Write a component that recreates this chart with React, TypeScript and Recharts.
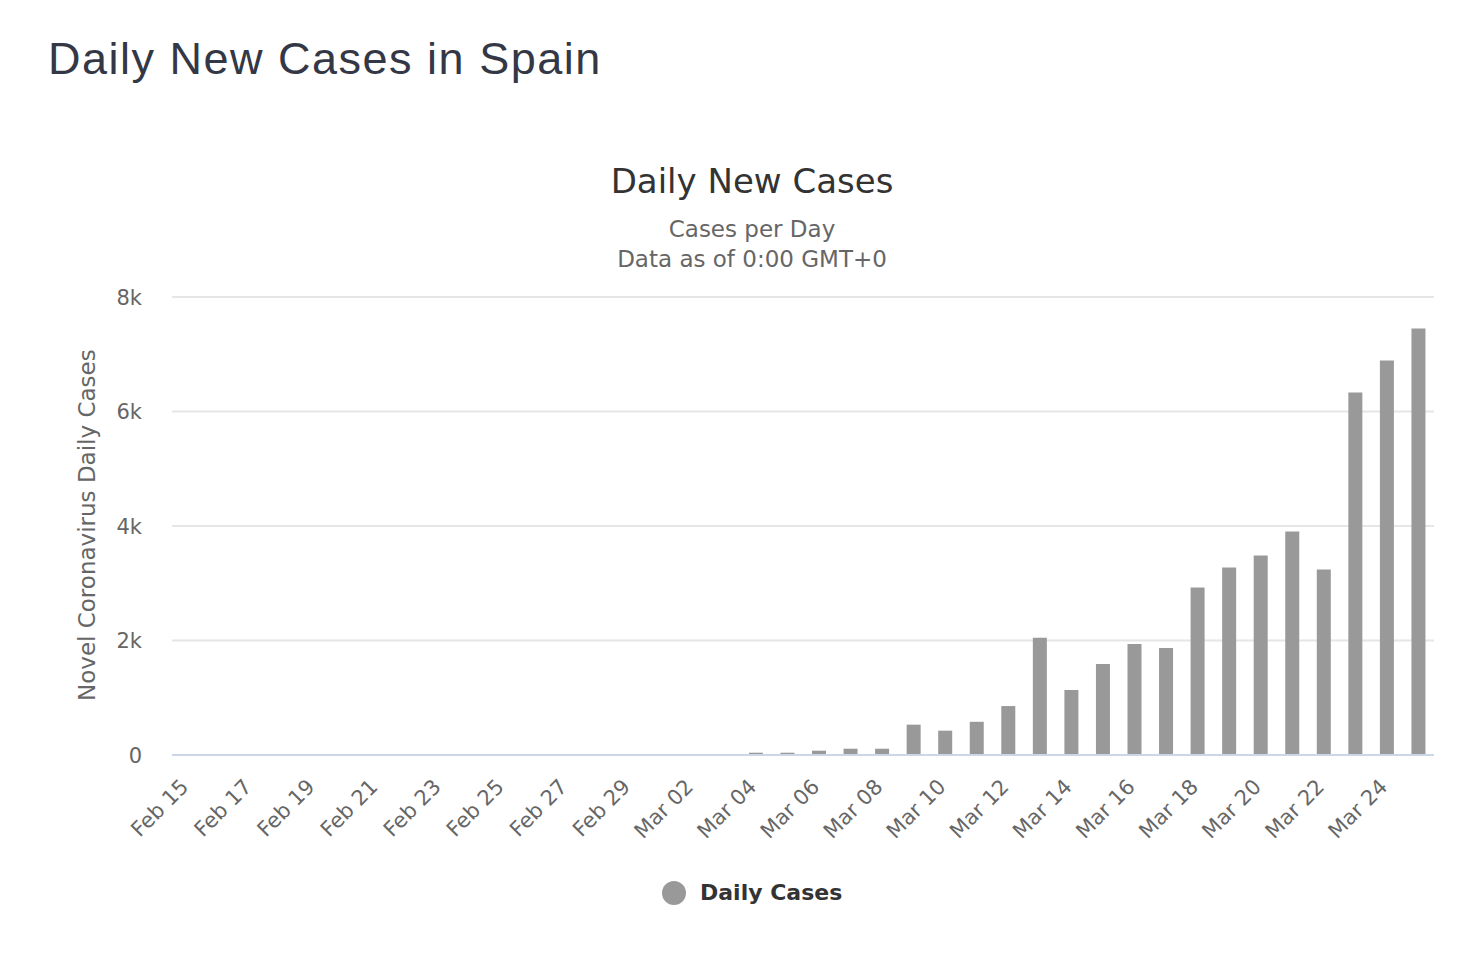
import { BarChart, Bar, XAxis, YAxis, CartesianGrid, Legend } from "recharts"

const days = [
  "Feb 15", "Feb 16", "Feb 17", "Feb 18", "Feb 19", "Feb 20", "Feb 21", "Feb 22",
  "Feb 23", "Feb 24", "Feb 25", "Feb 26", "Feb 27", "Feb 28", "Feb 29",
  "Mar 01", "Mar 02", "Mar 03", "Mar 04", "Mar 05", "Mar 06", "Mar 07", "Mar 08",
  "Mar 09", "Mar 10", "Mar 11", "Mar 12", "Mar 13", "Mar 14", "Mar 15", "Mar 16",
  "Mar 17", "Mar 18", "Mar 19", "Mar 20", "Mar 21", "Mar 22", "Mar 23", "Mar 24", "Mar 25",
]

const dailyCases = [
  0, 0, 0, 0, 0, 0, 0, 0,
  0, 0, 4, 3, 2, 6, 8,
  10, 6, 8, 40, 40, 75, 110, 110,
  530, 425, 580, 855, 2050, 1135, 1590, 1940,
  1870, 2925, 3275, 3485, 3905, 3240, 6330, 6890, 7450,
]

const yTicks = [0, 2000, 4000, 6000, 8000]

const data = days.map((day, i) => ({ day, cases: dailyCases[i] }))

const FONT = "'DejaVu Sans', 'Open Sans', sans-serif"

const XTick = ({ x, y, payload }: any) => (
  <text
    x={x + 2}
    y={y + 25}
    transform={`rotate(-45 ${x + 2} ${y + 25})`}
    textAnchor="end"
    fill="#666666"
    fontSize={21}
    fontFamily={FONT}
  >
    {payload.value}
  </text>
)

const YTick = ({ x, y, payload }: any) => (
  <text
    x={x}
    y={y}
    dy="0.36em"
    textAnchor="end"
    fill="#666666"
    fontSize={21}
    fontFamily={FONT}
  >
    {payload.value === 0 ? "0" : `${payload.value / 1000}k`}
  </text>
)

const LegendContent = ({ payload }: any) => (
  <div style={{ display: "flex", alignItems: "center", fontFamily: FONT }}>
    {(payload || []).map((entry: any) => (
      <div key={entry.value} style={{ display: "flex", alignItems: "center" }}>
        <span
          style={{
            display: "inline-block",
            width: 24,
            height: 24,
            borderRadius: 12,
            background: "#999999",
            marginRight: 14,
          }}
        />
        <span style={{ fontSize: 22, fontWeight: "bold", color: "#333333" }}>{entry.value}</span>
      </div>
    ))}
  </div>
)

export default function App() {
  return (
    <div
      style={{
        position: "absolute",
        left: 0,
        top: 0,
        width: 1482,
        height: 972,
        background: "#ffffff",
        overflow: "hidden",
      }}
    >
      <div
        style={{
          position: "absolute",
          left: 48,
          top: 36,
          fontFamily: "'Liberation Sans', Arial, sans-serif",
          fontSize: 45,
          letterSpacing: 1.5,
          lineHeight: 1,
          color: "#343745",
          whiteSpace: "nowrap",
        }}
      >
        Daily New Cases in Spain
      </div>

      <div
        style={{
          position: "absolute",
          left: 452,
          width: 600,
          top: 161,
          textAlign: "center",
          fontFamily: FONT,
          color: "#333333",
          fontSize: 34,
          lineHeight: 1.2,
        }}
      >
        Daily New Cases
      </div>
      <div
        style={{
          position: "absolute",
          left: 452,
          width: 600,
          top: 214,
          textAlign: "center",
          fontFamily: FONT,
          color: "#666666",
          fontSize: 23,
          lineHeight: "30px",
        }}
      >
        <div>Cases per Day</div>
        <div>Data as of 0:00 GMT+0</div>
      </div>

      <div style={{ position: "absolute", left: 0, top: 0 }}>
        <BarChart
          width={1482}
          height={972}
          data={data}
          margin={{ top: 297, right: 48, bottom: 117, left: 72 }}
        >
          <CartesianGrid vertical={false} stroke="#e6e6e6" strokeWidth={2} />
          <XAxis
            dataKey="day"
            interval={1}
            height={100}
            tick={<XTick />}
            tickLine={false}
            axisLine={{ stroke: "#ccd6eb", strokeWidth: 2 }}
          />
          <YAxis
            width={100}
            domain={[0, 8000]}
            ticks={yTicks}
            tick={<YTick />}
            tickLine={false}
            axisLine={false}
            tickMargin={24}
            label={{
              value: "Novel Coronavirus Daily Cases",
              angle: -90,
              position: "insideLeft",
              dx: 10,
              dy: 175,
              fill: "#666666",
              fontSize: 23,
              fontFamily: FONT,
            }}
          />
          <Legend
            verticalAlign="middle"
            align="center"
            layout="horizontal"
            content={<LegendContent />}
            wrapperStyle={{ top: 880, left: 662 }}
          />
          <Bar
            dataKey="cases"
            name="Daily Cases"
            fill="#999999"
            barSize={14}
            isAnimationActive={false}
          />
        </BarChart>
      </div>
    </div>
  )
}
